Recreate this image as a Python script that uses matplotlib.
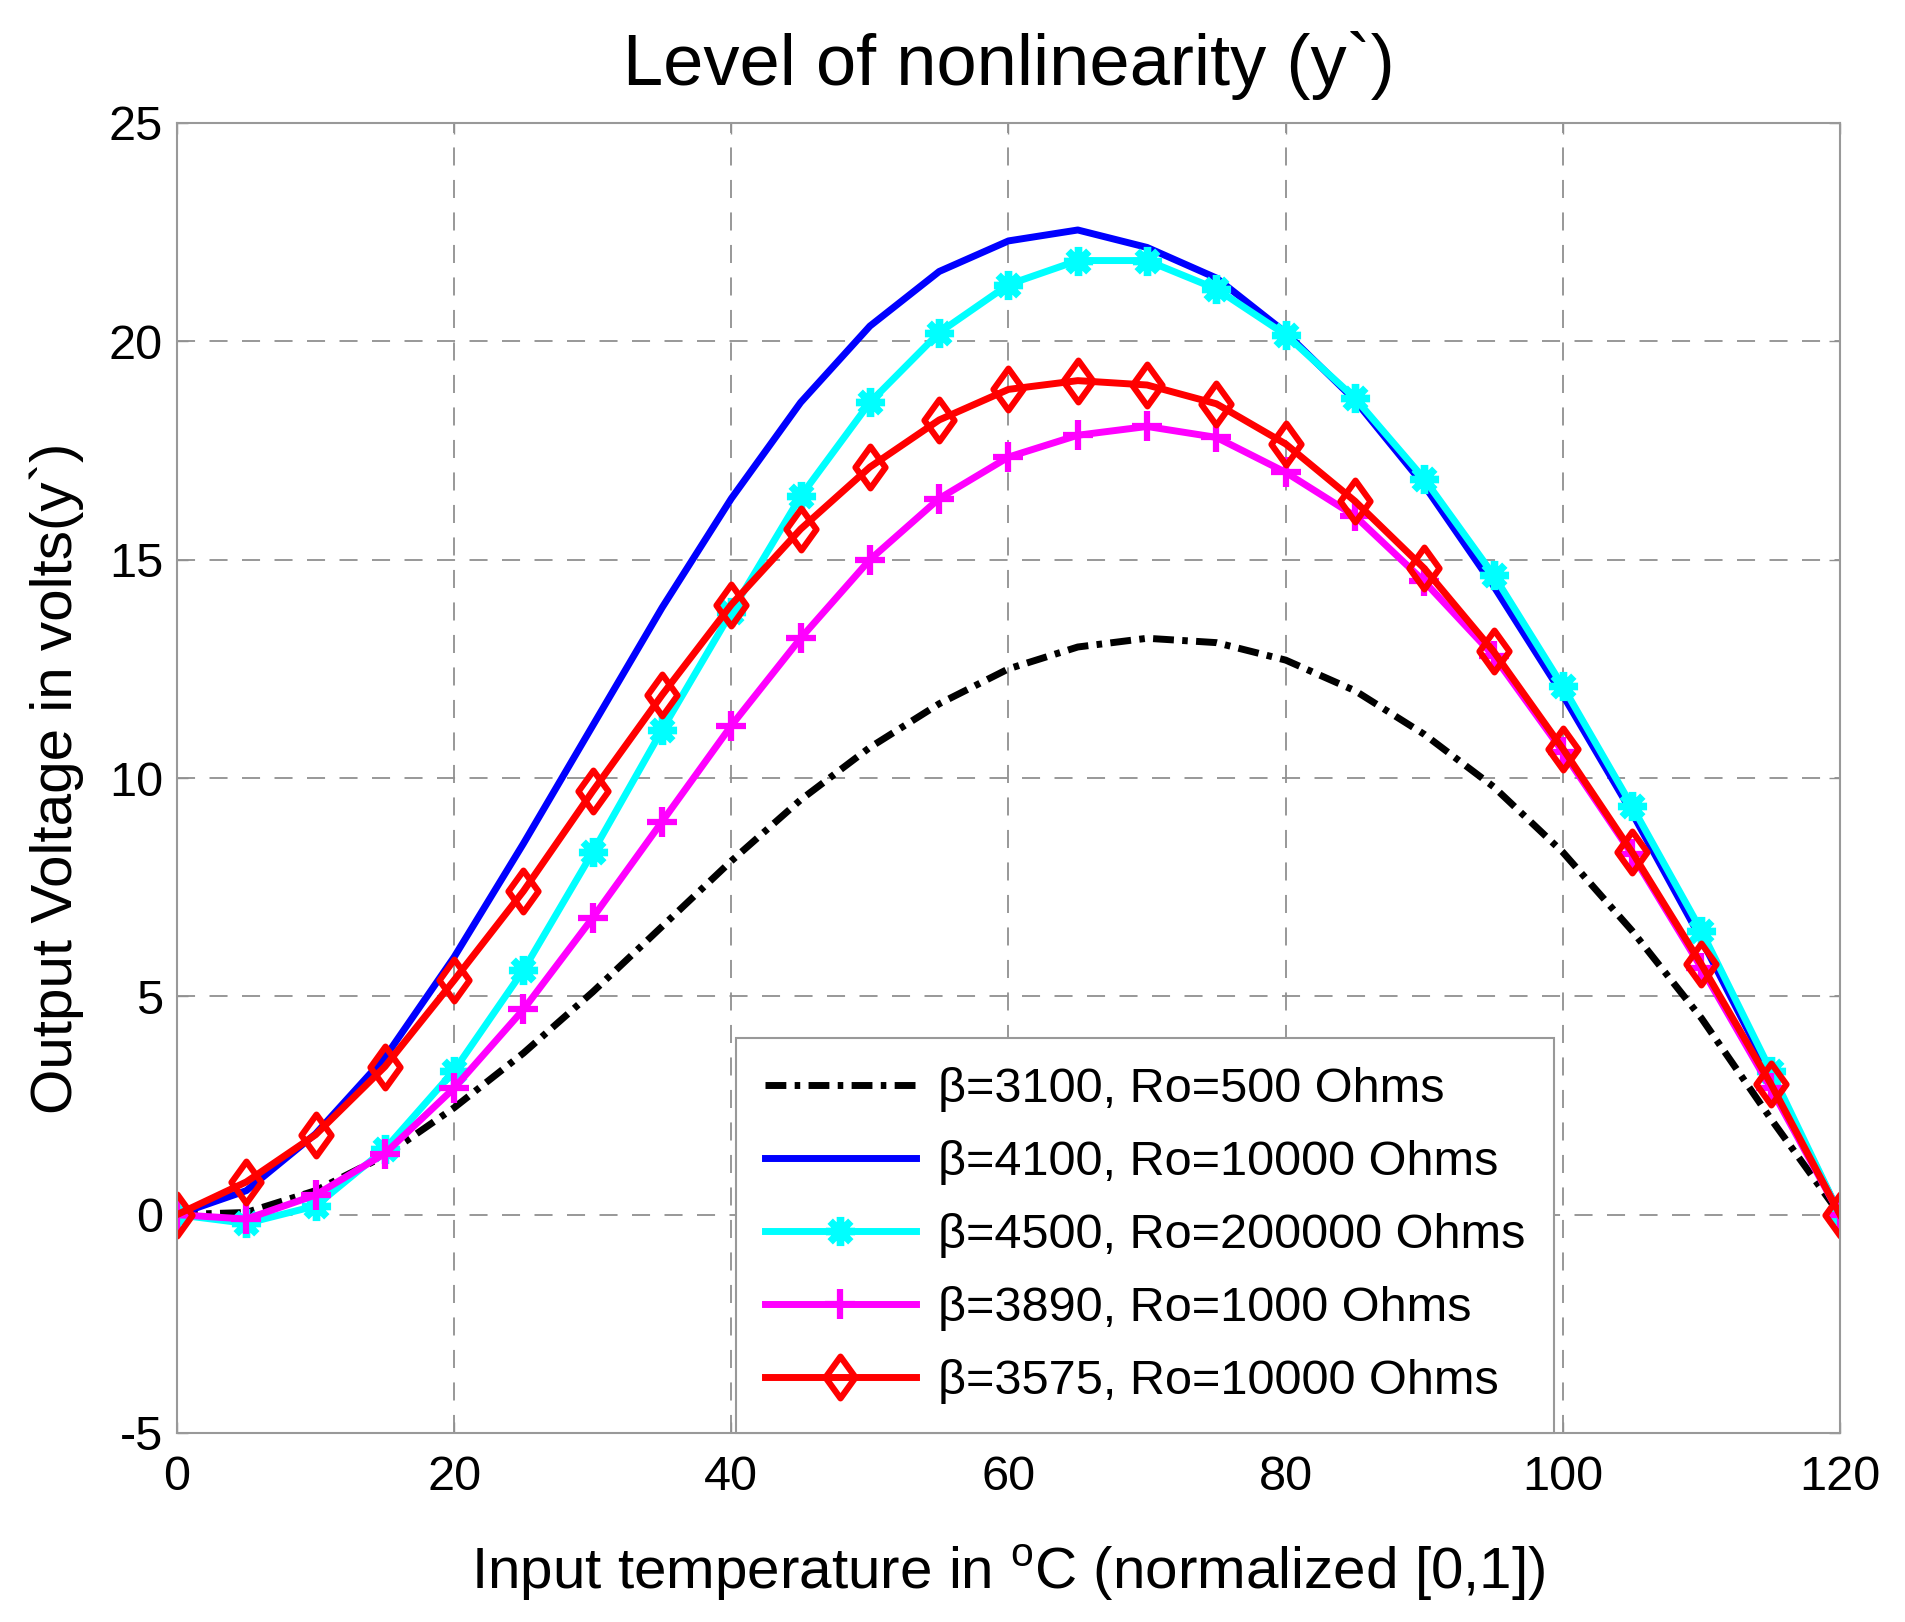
# ------------------------------------------------------------------
# 0. Imports
# ------------------------------------------------------------------
import numpy as np
import matplotlib
matplotlib.use("Agg")
import matplotlib.pyplot as plt
from matplotlib.path import Path

plt.rcParams['font.family'] = ['Liberation Sans', 'DejaVu Sans']
plt.rcParams['mathtext.fontset'] = 'custom'
plt.rcParams['mathtext.rm'] = 'Liberation Sans'
plt.rcParams['axes.unicode_minus'] = False

# ------------------------------------------------------------------
# 1. Data
# ------------------------------------------------------------------
temp = [0, 5, 10, 15, 20, 25, 30, 35, 40, 45, 50, 55, 60,
        65, 70, 75, 80, 85, 90, 95, 100, 105, 110, 115, 120]

y_3100 = [0, 0.05, 0.55, 1.35, 2.45, 3.7, 5.1, 6.6, 8.1, 9.5, 10.7, 11.7, 12.5,
          13.0, 13.2, 13.1, 12.7, 12.0, 11.0, 9.8, 8.3, 6.5, 4.5, 2.2, 0]
y_4100 = [0, 0.55, 1.85, 3.6, 5.9, 8.5, 11.2, 13.9, 16.4, 18.6, 20.35, 21.6, 22.3,
          22.55, 22.15, 21.45, 20.2, 18.65, 16.7, 14.4, 11.9, 9.2, 6.3, 3.2, 0]
y_4500 = [0, -0.2, 0.2, 1.5, 3.3, 5.6, 8.3, 11.1, 13.8, 16.45, 18.6, 20.2, 21.3,
          21.85, 21.85, 21.2, 20.15, 18.7, 16.85, 14.65, 12.1, 9.35, 6.5, 3.3, 0]
y_3890 = [0, -0.1, 0.45, 1.4, 2.9, 4.7, 6.8, 9.0, 11.2, 13.2, 15.0, 16.4, 17.35,
          17.85, 18.05, 17.8, 17.0, 16.0, 14.5, 12.8, 10.6, 8.25, 5.65, 2.9, 0]
y_3575 = [0, 0.75, 1.83, 3.39, 5.37, 7.41, 9.7, 11.9, 13.97, 15.7, 17.12, 18.2, 18.9,
          19.1, 19.0, 18.57, 17.65, 16.34, 14.8, 12.9, 10.67, 8.3, 5.73, 3.0, 0]

labels = ["β=3100, Ro=500 Ohms",
          "β=4100, Ro=10000 Ohms",
          "β=4500, Ro=200000 Ohms",
          "β=3890, Ro=1000 Ohms",
          "β=3575, Ro=10000 Ohms"]

x_ticks = [0, 20, 40, 60, 80, 100, 120]
y_ticks = [-5, 0, 5, 10, 15, 20, 25]

# ------------------------------------------------------------------
# 2. MATLAB-like markers: asterisk (+ and x strokes), diamond
# ------------------------------------------------------------------
d = 0.7071
asterisk = Path([(-1, 0), (1, 0), (0, -1), (0, 1),
                 (-d, -d), (d, d), (-d, d), (d, -d)],
                [Path.MOVETO, Path.LINETO] * 4)
diamond = Path([(0, 1), (0.72, 0), (0, -1), (-0.72, 0), (0, 1)],
               [Path.MOVETO, Path.LINETO, Path.LINETO, Path.LINETO, Path.CLOSEPOLY])

# ------------------------------------------------------------------
# 3. Figure
# ------------------------------------------------------------------
fig = plt.figure(figsize=(19.06, 16.22), dpi=100)
ax = fig.add_axes([177/1906, 1 - 1433/1622, (1840-177)/1906, (1433-123)/1622])

lw = 5
ax.plot(temp, y_3100, color='black', lw=lw, linestyle=(0, (3, 1.2, 0.8, 1.2)),
        label=labels[0])
ax.plot(temp, y_4100, color='#0000ff', lw=lw, label=labels[1])
ax.plot(temp, y_4500, color='cyan', lw=lw, marker=asterisk, markersize=21,
        markerfacecolor='none', markeredgecolor='cyan', markeredgewidth=5.5,
        label=labels[2])
ax.plot(temp, y_3890, color='magenta', lw=lw, marker='+', markersize=22,
        markeredgewidth=4.5, label=labels[3])
ax.plot(temp, y_3575, color='red', lw=lw, marker=diamond, markersize=30,
        markerfacecolor='none', markeredgecolor='red', markeredgewidth=4.5,
        label=labels[4])

ax.set_xlim(0, 120)
ax.set_ylim(-5, 25)
ax.set_xticks(x_ticks)
ax.set_yticks(y_ticks)
ax.tick_params(direction='in', length=8, width=1, colors='#909090',
               labelcolor='black', labelsize=35)
ax.tick_params(axis='x', pad=16)
ax.tick_params(axis='y', pad=10)
ax.tick_params(top=True, right=True)
for s in ax.spines.values():
    s.set_color('#999999')
    s.set_linewidth(1.5)

ax.grid(True, color='#909090', lw=1.3, linestyle=(0, (10, 8)))
ax.set_axisbelow(True)

ax.set_title("Level of nonlinearity (y`)", fontsize=52, pad=27)
ax.set_xlabel(r"Input temperature in $^{\rm o}$C (normalized [0,1])",
              fontsize=42, labelpad=30)
ax.set_ylabel("Output Voltage in volts(y`)", fontsize=42, labelpad=18)

leg = ax.legend(loc='lower left', bbox_to_anchor=(0.336, 0.0), borderaxespad=0,
                fontsize=35, handlelength=3.1, handletextpad=0.45,
                labelspacing=0.575, borderpad=0.6, fancybox=False,
                framealpha=1, edgecolor='#999999')
leg.get_frame().set_linewidth(1.5)

plt.savefig("out.png", dpi=100)
